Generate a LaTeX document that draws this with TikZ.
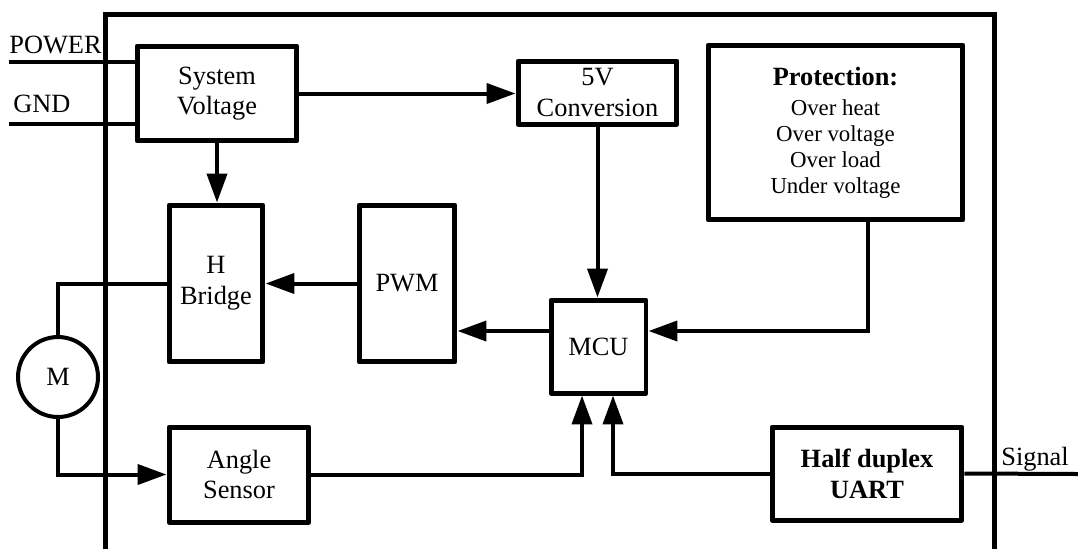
\documentclass[tikz,border=0pt]{standalone}
\usepackage{fontspec}
\setmainfont{Liberation Serif}
\usetikzlibrary{arrows.meta}
\tikzset{block node/.style={draw,line width=0.1cm,line join=round,align=center,inner sep=2pt,font=\fontsize{15}{17.5}\selectfont},
  label node/.style={anchor=base west,inner sep=0pt,font=\fontsize{15}{17.5}\selectfont},
  wire/.style={line width=0.08cm},
  flow/.style={wire,-{Triangle[length=0.58cm,width=0.4cm]}},}

\begin{document}
\begin{tikzpicture}[x=0.02cm,y=-0.02cm]
  \useasboundingbox (0,0) rectangle (1078,549);
  %% Frame
  \draw[line width=0.1cm] (105,549) -- (105,14) -- (994,14) -- (994,549);
  %% Nodes
  \node[block node,minimum width=3.2cm,minimum height=1.9cm] (sysv) at (217,93.5) {System\\Voltage};
  \node[block node,minimum width=3.18cm,minimum height=1.26cm] (conv) at (597.5,92.5) {5V\\Conversion};
  \node[block node,minimum width=5.1cm,minimum height=3.5cm,font=\fontsize{13}{14.8}\selectfont] (prot) at (835.5,132.5)
    {{\fontsize{15}{17.5}\selectfont\bfseries Protection:}\\[2.4pt]Over heat\\Over voltage\\Over load\\Under voltage};
  \node[block node,minimum width=1.88cm,minimum height=3.14cm] (hb) at (216,283.5) {H\\Bridge};
  \node[block node,minimum width=1.92cm,minimum height=3.14cm] (pwm) at (407,283.5) {PWM};
  \node[block node,minimum width=1.9cm,minimum height=1.86cm] (mcu) at (598.5,346.5) {MCU};
  \node[block node,minimum width=2.8cm,minimum height=1.9cm] (angle) at (239,474.5) {Angle\\Sensor};
  \node[block node,minimum width=3.8cm,minimum height=1.86cm,font=\fontsize{15}{17.5}\selectfont\bfseries] (uart) at (867,473.5) {Half duplex\\UART};
  \node[draw,circle,line width=0.08cm,minimum size=1.6cm,inner sep=0pt,font=\fontsize{15}{17.5}\selectfont] (m) at (58,377) {M};
  \node[label node] (power) at (9,53) {POWER};
  \node[label node] (gnd) at (13,112) {GND};
  \node[label node] (signal) at (1001,465) {Signal};
  \coordinate (pw) at (9,62);
  \coordinate (gd) at (9,124);
  \coordinate (sg) at (1078,474);
  %% Paths
  \draw[wire] (pw) -- (pw -| sysv.west);
  \draw[wire] (gd) -- (gd -| sysv.west);
  \draw[flow] (sysv.east) -- (sysv.east -| conv.west);
  \draw[flow] (sysv.south) -- (sysv.south |- hb.north);
  \draw[flow] (conv.south) -- (conv.south |- mcu.north);
  \draw[flow] ([xshift=0.65cm]prot.south) |- ([yshift=0.31cm]mcu.east);
  \draw[flow] ([yshift=0.31cm]mcu.west) -- ([yshift=0.31cm]mcu.west -| pwm.east);
  \draw[flow] (pwm.west) -- (hb.east);
  \draw[wire] (hb.west) -| (m.north);
  \draw[flow] (m.south) |- (angle.west);
  \draw[flow] (angle.east) -| ([xshift=-0.33cm]mcu.south);
  \draw[flow] (uart.west) -| ([xshift=0.29cm]mcu.south);
  \draw[wire] (uart.east) -- (sg);
\end{tikzpicture}
\end{document}
